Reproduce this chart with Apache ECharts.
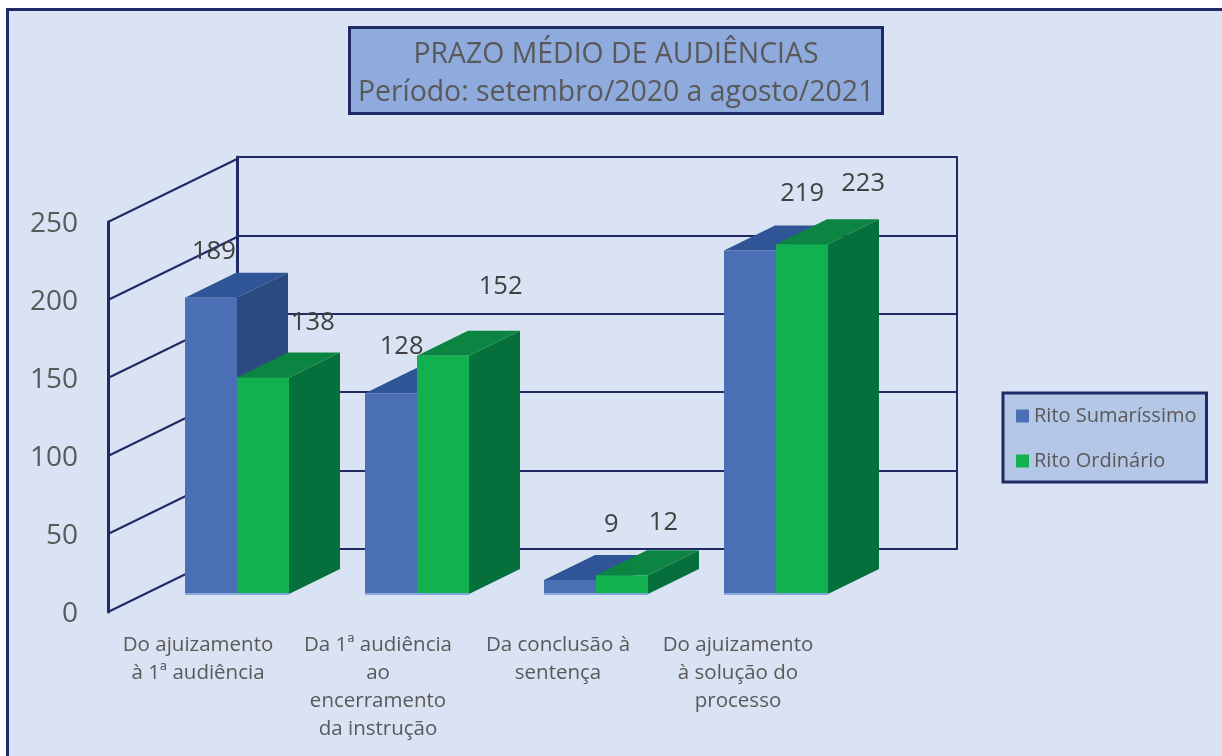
<!DOCTYPE html>
<html><head><meta charset="utf-8">
<style>html,body{margin:0;padding:0;background:#fff}#c{width:1222px;height:756px}</style>
<script src="https://cdn.jsdelivr.net/npm/echarts@6/dist/echarts.min.js"></script>
</head><body><div id="c"></div>
<script>
const categories = ['Do ajuizamento\nà 1ª audiência', 'Da 1ª audiência\nao\nencerramento\nda instrução', 'Da conclusão à\nsentença', 'Do ajuizamento\nà solução do\nprocesso'];
const sumarissimo = [189, 128, 9, 219];
const ordinario = [138, 152, 12, 223];
const yTicks = [0, 50, 100, 150, 200, 250];
const titleLines = ['PRAZO MÉDIO DE AUDIÊNCIAS', 'Período: setembro/2020 a agosto/2021'];
const seriesNames = ['Rito Sumaríssimo', 'Rito Ordinário'];

// label placement relative to the bar's front-top centre
const labelShiftA = [[3, -46], [11, -47], [41, -55], [52, -57]];
const labelShiftB = [[50, -55], [58, -69], [41, -52], [61, -61]];

const NAVY = '#1F2A66', FONT = '"Open Sans"';
const BAR_W = 52, DX = 51, DY = -25, WALL_DX = 129, WALL_DY = -63;
const STYLES = [
  {front: '#4A6FB5', top: '#2F5597', side: '#2A4A80', base: '#8AA8DE'},
  {front: '#12B14F', top: '#0D8542', side: '#06703C', base: '#7FA8DC'}
];

const chart = echarts.init(document.getElementById('c'), null, {renderer: 'canvas'});

function barRenderer(idx) {
  const st = STYLES[idx];
  return function (params, api) {
    const c = api.coord([api.value(0), api.value(1)]);
    const b = api.coord([api.value(0), 0]);
    const mid = Math.round(c[0]);
    const x0 = idx === 0 ? mid - BAR_W : mid, x1 = x0 + BAR_W, yT = c[1], yB = b[1];
    const poly = (pts, fill) => ({type: 'polygon', shape: {points: pts}, style: {fill: fill}});
    return {type: 'group', children: [
      poly([[x1, yT], [x1 + DX, yT + DY], [x1 + DX, yB + DY], [x1, yB]], st.side),
      poly([[x0, yT], [x0 + DX, yT + DY], [x1 + DX, yT + DY], [x1, yT]], st.top),
      poly([[x0, yT], [x1, yT], [x1, yB], [x0, yB]], st.front),
      {type: 'rect', shape: {x: x0, y: yB - 1, width: BAR_W, height: 2}, style: {fill: st.base}}
    ]};
  };
}

function labelRenderer(values, shifts) {
  return function (params, api) {
    const i = params.dataIndex;
    const c = api.coord([api.value(0), api.value(1)]);
    const centre = c[0] + (values === sumarissimo ? -BAR_W / 2 : BAR_W / 2);
    return {type: 'text', z2: 100, style: {
      x: centre + shifts[i][0], y: c[1] + shifts[i][1], text: String(values[i]),
      fill: '#404040', font: '25.5px ' + FONT, align: 'center', verticalAlign: 'middle'
    }};
  };
}

function wallRenderer(params, api) {
  const y = api.coord([0, api.value(1)])[1], x = params.coordSys.x;
  return {type: 'line', shape: {x1: x, y1: y, x2: x + WALL_DX, y2: y + WALL_DY},
    style: {stroke: NAVY, lineWidth: 2}};
}

const hiddenCat = gi => ({type: 'category', gridIndex: gi, data: categories, show: false});
const valueBase = gi => ({type: 'value', gridIndex: gi, min: 0, max: 250, interval: 50});

chart.setOption({
  animation: false,
  backgroundColor: '#fff',
  graphic: {elements: [{type: 'rect', z: -10, silent: true,
    shape: {x: 7.5, y: 9.5, width: 1300, height: 800},
    style: {fill: '#D9E3F3', stroke: NAVY, lineWidth: 3}}]},
  title: {
    text: titleLines[0] + '\n' + titleLines[1],
    left: 607, top: 27, textAlign: 'center',
    padding: [9, 9, 2, 9],
    backgroundColor: '#8FAADC', borderColor: NAVY, borderWidth: 3,
    textStyle: {fontFamily: FONT, fontSize: 28.4, fontWeight: 'normal', color: '#595959', lineHeight: 38}
  },
  legend: {
    data: seriesNames, orient: 'vertical', left: 1003, top: 393,
    padding: [13, 10, 11, 13], itemGap: 25, itemWidth: 13, itemHeight: 13, icon: 'rect',
    backgroundColor: '#B4C7E7', borderColor: NAVY, borderWidth: 3, borderRadius: 0,
    textStyle: {fontFamily: FONT, fontSize: 20, color: '#595959'}
  },
  grid: [
    {left: 108, top: 222, width: 720, height: 390},
    {left: 237, top: 157, width: 720, height: 392},
    {left: 147, top: 202, width: 719, height: 392},
    {left: 108, top: 224, width: 720, height: 390}
  ],
  xAxis: [
    {type: 'category', gridIndex: 0, data: categories, axisLine: {show: false}, axisTick: {show: false},
      axisLabel: {interval: 0, margin: 19, fontFamily: FONT, fontSize: 20.5, lineHeight: 28, color: '#595959', align: 'center', verticalAlign: 'top'}},
    {type: 'category', gridIndex: 1, data: categories, axisTick: {show: false}, axisLabel: {show: false},
      axisLine: {show: true, lineStyle: {color: NAVY, width: 2}}},
    hiddenCat(2),
    hiddenCat(3)
  ],
  yAxis: [
    Object.assign(valueBase(0), {splitLine: {show: false}, axisTick: {show: false}, axisLabel: {show: false},
      axisLine: {show: true, lineStyle: {color: NAVY, width: 3}}}),
    Object.assign(valueBase(1), {axisLabel: {show: false}, axisTick: {show: false},
      axisLine: {show: true, lineStyle: {color: NAVY, width: 3}},
      splitLine: {show: true, lineStyle: {color: NAVY, width: 2, type: 'solid'}}}),
    Object.assign(valueBase(1), {position: 'right', axisLabel: {show: false}, axisTick: {show: false},
      axisLine: {show: true, lineStyle: {color: NAVY, width: 2}}, splitLine: {show: false}}),
    Object.assign(valueBase(2), {show: false, splitLine: {show: false}}),
    Object.assign(valueBase(3), {splitLine: {show: false}, axisTick: {show: false}, axisLine: {show: false},
      axisLabel: {margin: 30, fontFamily: FONT, fontSize: 28, color: '#595959'}})
  ],
  series: [
    {type: 'custom', name: 'wall', xAxisIndex: 0, yAxisIndex: 0, z: 1, silent: true,
      data: yTicks.map(t => [0, t]), encode: {x: 0, y: 1}, renderItem: wallRenderer},
    {type: 'custom', name: seriesNames[0], xAxisIndex: 2, yAxisIndex: 3, z: 2,
      itemStyle: {color: STYLES[0].front},
      data: sumarissimo.map((v, i) => [i, v]), encode: {x: 0, y: 1}, renderItem: barRenderer(0)},
    {type: 'custom', name: seriesNames[1], xAxisIndex: 2, yAxisIndex: 3, z: 3,
      itemStyle: {color: STYLES[1].front},
      data: ordinario.map((v, i) => [i, v]), encode: {x: 0, y: 1}, renderItem: barRenderer(1)},
    {type: 'custom', name: 'labelsA', xAxisIndex: 2, yAxisIndex: 3, z: 5, silent: true,
      data: sumarissimo.map((v, i) => [i, v]), encode: {x: 0, y: 1}, renderItem: labelRenderer(sumarissimo, labelShiftA)},
    {type: 'custom', name: 'labelsB', xAxisIndex: 2, yAxisIndex: 3, z: 5, silent: true,
      data: ordinario.map((v, i) => [i, v]), encode: {x: 0, y: 1}, renderItem: labelRenderer(ordinario, labelShiftB)}
  ]
});
</script></body></html>
